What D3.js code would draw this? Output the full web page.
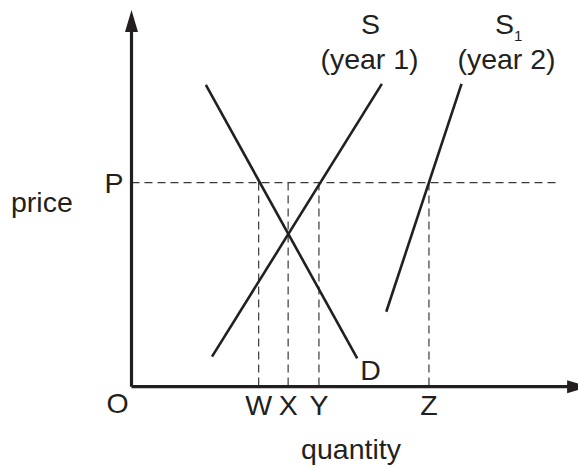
<!DOCTYPE html>
<html>
<head>
<meta charset="utf-8">
<script src="https://cdn.jsdelivr.net/npm/d3@7"></script>
<style>
  body { margin: 0; background: #fff; }
  svg text { font-family: "Liberation Sans", Arial, Helvetica, sans-serif; fill: #231f20; }
</style>
</head>
<body>
<div id="chart"></div>
<script>
// curve end points, in chart units (quantity, price)
const demandLine = [{q: 16.9, p: 80.1}, {q: 51.3, p: 7.5}];
const supplyYear1 = [{q: 18.3, p: 8.0}, {q: 56.9, p: 80.4}];
const supplyYear2 = [{q: 57.9, p: 19.9}, {q: 75.0, p: 80.4}];
const priceLevel = 54.2;
const quantityMarks = ["W", "X", "Y", "Z"];
const quantityValues = [28.9, 35.6, 42.6, 67.6];
const axisMax = {q: 104, p: 100};
const priceLineEnd = 96.5;

const width = 578, height = 469;
const ink = "#231f20";

let svg = d3.select("#chart").append("svg")
    .attr("width", width)
    .attr("height", height);

let x = d3.scaleLinear().domain([0, 100]).range([131.5, 571.5]);
let y = d3.scaleLinear().domain([0, 100]).range([386.7, 10]);

let line = d3.line().x(d => x(d.q)).y(d => y(d.p));

// dashed guide lines
svg.append("line")
    .attr("x1", x(0)).attr("x2", x(priceLineEnd))
    .attr("y1", y(priceLevel)).attr("y2", y(priceLevel))
    .attr("stroke", "#3a3a3a").attr("stroke-width", 1.2)
    .attr("stroke-dasharray", "8,5");

svg.selectAll("line.drop").data(quantityValues).enter().append("line")
    .attr("class", "drop")
    .attr("x1", d => x(d)).attr("x2", d => x(d))
    .attr("y1", y(priceLevel)).attr("y2", y(0))
    .attr("stroke", "#3a3a3a").attr("stroke-width", 1.2)
    .attr("stroke-dasharray", "8,5");

// demand and supply curves
[demandLine, supplyYear1, supplyYear2].forEach(function(d) {
    svg.append("path")
        .attr("d", line(d))
        .attr("fill", "none")
        .attr("stroke", ink)
        .attr("stroke-width", 2.6);
});

// axes with arrow heads
let ox = x(0), oy = y(0);
svg.append("path")
    .attr("d", "M" + ox + "," + oy + "V" + (y(axisMax.p) + 18) + "M" + ox + "," + oy + "H" + (x(axisMax.q) - 18))
    .attr("fill", "none")
    .attr("stroke", ink)
    .attr("stroke-width", 3.2);

let tipY = y(axisMax.p), tipX = x(axisMax.q);
svg.append("path")
    .attr("d", "M" + ox + "," + tipY + "L" + (ox - 6.5) + "," + (tipY + 22) + "L" + (ox + 6.5) + "," + (tipY + 22) + "Z")
    .attr("fill", ink);
svg.append("path")
    .attr("d", "M" + tipX + "," + oy + "L" + (tipX - 22) + "," + (oy - 6.5) + "L" + (tipX - 22) + "," + (oy + 6.5) + "Z")
    .attr("fill", ink);

// labels
const fs = 28.5;
svg.append("text").attr("x", 11).attr("y", 212).attr("font-size", fs).text("price");
svg.append("text").attr("x", ox - 8).attr("y", y(priceLevel) + 10).attr("text-anchor", "end").attr("font-size", fs).text("P");
svg.append("text").attr("x", ox - 14).attr("y", 413).attr("text-anchor", "middle").attr("font-size", fs).text("O");

svg.selectAll("text.qmark").data(quantityMarks).enter().append("text")
    .attr("class", "qmark")
    .attr("x", (d, i) => x(quantityValues[i]))
    .attr("y", 415)
    .attr("text-anchor", "middle")
    .attr("font-size", fs)
    .text(d => d);

svg.append("text").attr("x", 351).attr("y", 459).attr("text-anchor", "middle").attr("font-size", fs).text("quantity");

svg.append("text").attr("x", x(demandLine[1].q) + 3).attr("y", 380).attr("font-size", fs).text("D");

svg.append("text").attr("x", 370.5).attr("y", 34).attr("text-anchor", "middle").attr("font-size", fs).text("S");
svg.append("text").attr("x", 369.5).attr("y", 69).attr("text-anchor", "middle").attr("font-size", fs).text("(year 1)");

let s1 = svg.append("text").attr("x", 495).attr("y", 34).attr("font-size", fs);
s1.append("tspan").text("S");
s1.append("tspan").attr("dy", 7).attr("font-size", 15).text("1");
svg.append("text").attr("x", 506.5).attr("y", 69).attr("text-anchor", "middle").attr("font-size", fs).text("(year 2)");
</script>
</body>
</html>
